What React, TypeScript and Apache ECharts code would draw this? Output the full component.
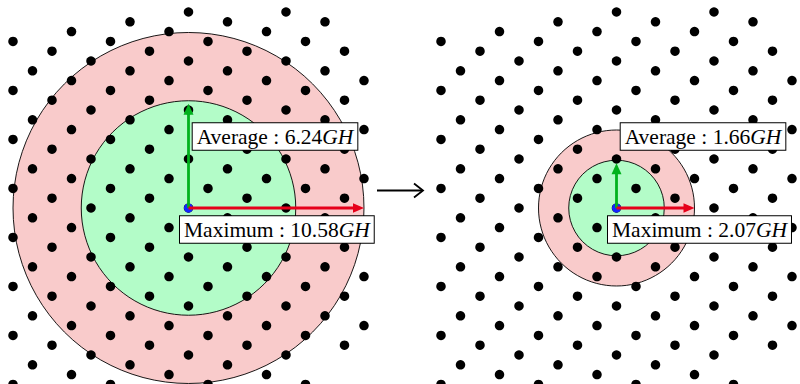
import React, { useEffect, useRef } from "react";
import * as echarts from "echarts";

// ---- data ----
// Lattice (units: one column step horizontally, same step upward)
const LATTICE_A = [1, 1];
const LATTICE_B = [1, -1.5];
const LATTICE_X_LIMIT = 9;
const LATTICE_Y_TOP = 10.2;
const LATTICE_Y_BOTTOM = -9.3;
const VACANT_SITES = [
  [-8, 9.5],
  [-5, 10],
  [9, 9],
  [7, -8],
  [9, -8.5],
];

const PANELS = ["before", "after"];
const AVERAGE = [6.24, 1.66];
const MAXIMUM = [10.58, 2.07];
const INNER_RADIUS = [5.5, 2.45];
const OUTER_RADIUS = [9.0, 4.0];
const UNIT = "GH";

function latticeSites(): number[][] {
  const pts: number[][] = [];
  for (let m = -30; m <= 30; m++) {
    for (let n = -30; n <= 30; n++) {
      const x = m * LATTICE_A[0] + n * LATTICE_B[0];
      const y = m * LATTICE_A[1] + n * LATTICE_B[1];
      if (Math.abs(x) > LATTICE_X_LIMIT || y > LATTICE_Y_TOP || y < LATTICE_Y_BOTTOM) continue;
      if (VACANT_SITES.some(([vx, vy]) => Math.abs(vx - x) < 1e-6 && Math.abs(vy - y) < 1e-6)) continue;
      pts.push([x, y]);
    }
  }
  return pts;
}

const FONT = "'Liberation Serif', 'DejaVu Serif', serif";
const PINK = "#f9cbcb";
const MINT = "#b3fcc8";
const RED = "#e6001a";
const GREEN = "#00b21c";
const BLUE = "#1424ff";

export default function App() {
  const ref = useRef<HTMLDivElement>(null);
  useEffect(() => {
    if (!ref.current) return;
    const chart = echarts.init(ref.current, undefined, { renderer: "svg" });
    const sites = latticeSites();
    const xRanges = [
      [-9.6667, 9.6667],
      [-9.6667, 9.4103],
    ];
    const grids = [
      { left: 0, top: 0, width: 377, bottom: 0 },
      { left: 428, top: 0, right: 0, bottom: 0 },
    ];
    const series: any[] = [];
    PANELS.forEach((_, i) => {
      series.push({
        type: "custom",
        xAxisIndex: i,
        yAxisIndex: i,
        z: 1,
        silent: true,
        data: [[OUTER_RADIUS[i], INNER_RADIUS[i]]],
        renderItem: (params: any, api: any) => {
          const c = api.coord([0, 0]);
          const rO = api.size([api.value(0), 0])[0];
          const rI = api.size([api.value(1), 0])[0];
          return {
            type: "group",
            children: [
              { type: "circle", shape: { cx: c[0], cy: c[1], r: rO }, style: { fill: PINK, stroke: "#000", lineWidth: 0.9 } },
              { type: "circle", shape: { cx: c[0], cy: c[1], r: rI }, style: { fill: MINT, stroke: "#000", lineWidth: 0.9 } },
            ],
          };
        },
      });
      series.push({
        type: "scatter",
        xAxisIndex: i,
        yAxisIndex: i,
        z: 2,
        silent: true,
        clip: false,
        symbol: "circle",
        symbolSize: 9.5,
        itemStyle: { color: "#000", opacity: 1 },
        data: sites,
      });
      series.push({
        type: "custom",
        xAxisIndex: i,
        yAxisIndex: i,
        z: 3,
        silent: true,
        data: [[OUTER_RADIUS[i], INNER_RADIUS[i], AVERAGE[i], MAXIMUM[i]]],
        renderItem: (params: any, api: any) => {
          const c = api.coord([0, 0]);
          const cx = c[0];
          const cy = c[1];
          const rO = api.size([api.value(0), 0])[0];
          const rI = api.size([api.value(1), 0])[0];
          const avg = api.value(2);
          const max = api.value(3);
          const gTip = cy - rI + 3;
          const rTip = cx + rO;
          const head = 11;
          const richStyle = {
            n: { font: `21.5px ${FONT}`, fontFamily: FONT, fontSize: 21.5, lineHeight: 22.5, fill: "#000" },
            u: { font: `italic 21.5px ${FONT}`, fontFamily: FONT, fontSize: 21.5, lineHeight: 22.5, fontStyle: "italic", fill: "#000" },
          };
          const box = {
            font: `21.5px ${FONT}`,
            fontFamily: FONT,
            fontSize: 21.5,
            fill: "#000",
            backgroundColor: "#fff",
            borderColor: "#000",
            borderWidth: 1,
            padding: [2, 4, 2, 4],
            align: "left",
            verticalAlign: "top",
            rich: richStyle,
          };
          return {
            type: "group",
            children: [
              { type: "circle", shape: { cx, cy, r: 4.5 }, style: { fill: BLUE } },
              { type: "line", shape: { x1: cx, y1: cy, x2: cx, y2: gTip + head - 1 }, style: { stroke: GREEN, lineWidth: 2.8 } },
              { type: "polygon", shape: { points: [[cx, gTip], [cx - 5, gTip + head], [cx + 5, gTip + head]] }, style: { fill: GREEN } },
              { type: "line", shape: { x1: cx, y1: cy, x2: rTip - head + 1, y2: cy }, style: { stroke: RED, lineWidth: 2.8 } },
              { type: "polygon", shape: { points: [[rTip, cy], [rTip - head, cy - 4.8], [rTip - head, cy + 4.8]] }, style: { fill: RED } },
              {
                type: "text",
                style: { ...box, x: cx + 4.2, y: cy - 84.7, text: `{n|Average : ${Number(avg).toFixed(2)}}{u|${UNIT}}` },
              },
              {
                type: "text",
                style: { ...box, x: cx - 8.5, y: cy + 8.3, text: `{n|Maximum : ${Number(max).toFixed(2)}}{u|${UNIT}}` },
              },
            ],
          };
        },
      });
    });

    chart.setOption({
      animation: false,
      backgroundColor: "#fff",
      grid: grids,
      xAxis: xRanges.map((r, i) => ({ type: "value", gridIndex: i, min: r[0], max: r[1], show: false })),
      yAxis: PANELS.map((_, i) => ({ type: "value", gridIndex: i, min: -8.9796, max: 10.6122, show: false })),
      graphic: [
        {
          type: "group",
          children: [
            { type: "line", shape: { x1: 377, y1: 190.5, x2: 422, y2: 190.5 }, style: { stroke: "#000", lineWidth: 1.8 } },
            { type: "polyline", shape: { points: [[414, 183.5], [423, 190.5], [414, 197.5]] }, style: { stroke: "#000", lineWidth: 1.8, fill: null } },
          ],
        },
      ],
      series,
    });
    return () => chart.dispose();
  }, []);
  return <div ref={ref} style={{ position: "absolute", left: 0, top: 0, width: 800, height: 384 }} />;
}
